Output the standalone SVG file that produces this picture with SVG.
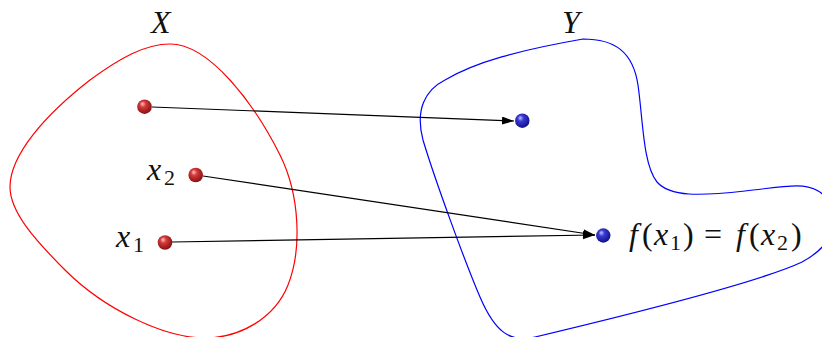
<svg xmlns="http://www.w3.org/2000/svg" width="822" height="337" viewBox="0 0 822 337">
<style>
.set{fill:none;stroke-width:1.2}
.conn{stroke:#000;stroke-width:1.2;fill:none;marker-end:url(#ah)}
text{font-family:'Liberation Serif','Times New Roman',serif;font-size:32px;fill:#111}
.it{font-style:italic}
.sub{font-size:22px;font-style:normal}
</style>
<defs>
<radialGradient id="gr" cx="0.45" cy="0.4" r="0.6" fx="0.35" fy="0.3">
<stop offset="0" stop-color="#ffc4c4"/>
<stop offset="0.35" stop-color="#d63a3a"/>
<stop offset="1" stop-color="#851010"/>
</radialGradient>
<radialGradient id="gb" cx="0.45" cy="0.4" r="0.6" fx="0.35" fy="0.3">
<stop offset="0" stop-color="#c4c4ff"/>
<stop offset="0.35" stop-color="#3a3ad6"/>
<stop offset="1" stop-color="#101085"/>
</radialGradient>
<marker id="ah" markerUnits="userSpaceOnUse" markerWidth="13" markerHeight="9" refX="12" refY="4" orient="auto">
<path d="M0,0 L12,4 L0,8 z" fill="#000"/>
</marker>
</defs>
<g id="setX">
<path class="set" stroke="#ff0000" d="M 170 44 C 210 44, 255 105, 280 155 C 300 195, 302 250, 288 285 C 275 318, 240 338, 205 338 C 165 338, 105 310, 65 270 C 35 240, 10 212, 10 187 C 10 155, 45 115, 90 80 C 120 58, 145 44, 170 44 Z"/>
<text class="it" x="151" y="33">X</text>
</g>
<g id="setY">
<path class="set" stroke="#0000ff" d="M 583 39 C 615 39, 633 52, 638 85 C 643 120, 643 165, 657 182 C 670 197, 700 196, 745 191 C 785 187, 812 178, 828 200 C 840 220, 834 245, 802 262 C 760 282, 640 312, 535 337 C 510 343, 495 332, 480 297 C 465 262, 435 180, 423 140 C 415 110, 425 90, 445 80 C 475 62, 520 50, 583 39 Z"/>
<text class="it" x="562" y="33">Y</text>
</g>
<g id="connectors">
<line class="conn" x1="152" y1="107" x2="514" y2="121"/>
<line class="conn" x1="203" y1="176" x2="595" y2="235"/>
<line class="conn" x1="172" y1="242" x2="595" y2="235"/>
</g>
<g id="a">
<circle cx="144.5" cy="106.7" r="7.3" fill="url(#gr)"/>
</g>
<g id="x2">
<circle cx="195.7" cy="175" r="7.3" fill="url(#gr)"/>
<text y="180"><tspan class="it" x="147">x</tspan><tspan class="sub" x="164" y="185">2</tspan></text>
</g>
<g id="x1">
<circle cx="165" cy="242.5" r="7.3" fill="url(#gr)"/>
<text y="247"><tspan class="it" x="116">x</tspan><tspan class="sub" x="133" y="252">1</tspan></text>
</g>
<g id="fa">
<circle cx="522.3" cy="120.7" r="7.2" fill="url(#gb)"/>
</g>
<g id="fx">
<circle cx="603.3" cy="235.5" r="7.2" fill="url(#gb)"/>
<text y="245"><tspan class="it" x="629">f</tspan><tspan x="642">(</tspan><tspan class="it" x="654">x</tspan><tspan class="sub" x="670" y="250">1</tspan><tspan x="683" y="245">)</tspan><tspan x="704">=</tspan><tspan class="it" x="736">f</tspan><tspan x="749">(</tspan><tspan class="it" x="761">x</tspan><tspan class="sub" x="777" y="250">2</tspan><tspan x="791" y="245">)</tspan></text>
</g>
</svg>
